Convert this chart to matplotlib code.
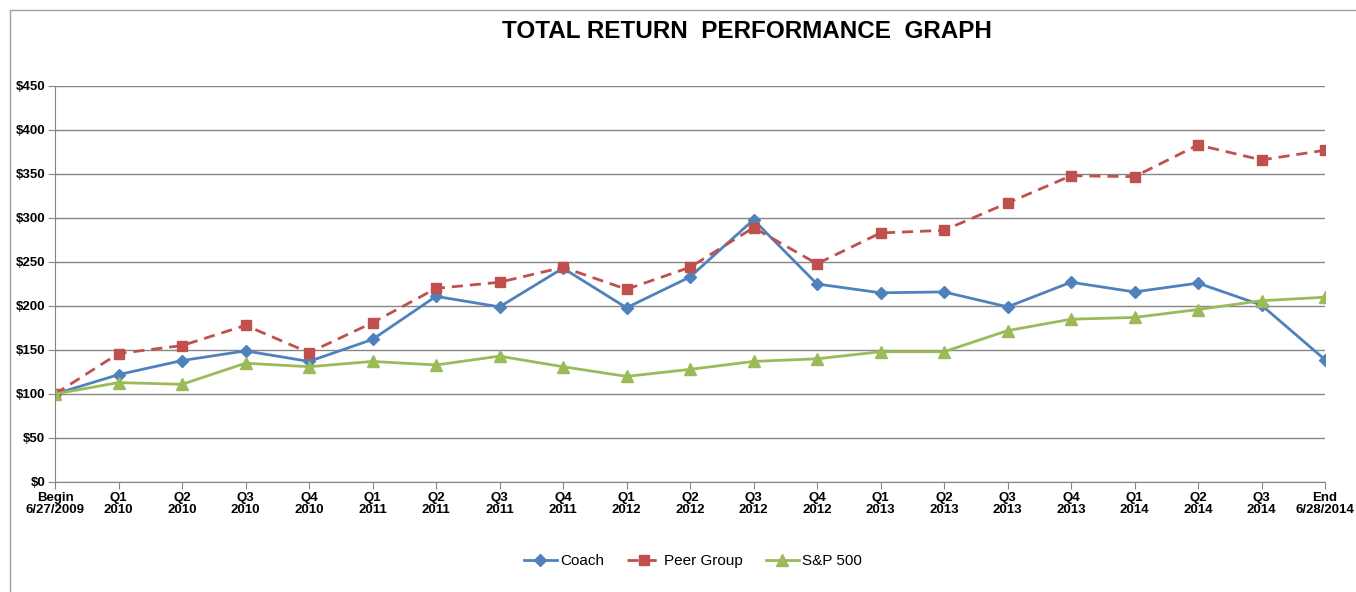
import numpy as np
import matplotlib.pyplot as plt
from matplotlib.patches import Rectangle

plt.rcParams['font.family'] = ['Liberation Sans', 'DejaVu Sans']

labels = ['Begin\n6/27/2009', 'Q1\n2010', 'Q2\n2010', 'Q3\n2010', 'Q4\n2010',
          'Q1\n2011', 'Q2\n2011', 'Q3\n2011', 'Q4\n2011',
          'Q1\n2012', 'Q2\n2012', 'Q3\n2012', 'Q4\n2012',
          'Q1\n2013', 'Q2\n2013', 'Q3\n2013', 'Q4\n2013',
          'Q1\n2014', 'Q2\n2014', 'Q3\n2014', 'End\n6/28/2014']
coach = [100, 122, 138, 149, 137, 162, 211, 199, 243, 198, 233, 298, 225,
         215, 216, 199, 227, 216, 226, 201, 139]
peer = [100, 146, 155, 178, 147, 181, 220, 227, 244, 219, 244, 289, 248,
        283, 286, 317, 348, 347, 383, 366, 377]
sp500 = [100, 113, 111, 135, 131, 137, 133, 143, 131, 120, 128, 137, 140,
         148, 148, 172, 185, 187, 196, 206, 210]
yticks = [0, 50, 100, 150, 200, 250, 300, 350, 400, 450]

fig = plt.figure(figsize=(13.56, 5.92), dpi=100)
# thin frame around the chart area (left and top edges show)
fig.patches.append(Rectangle((10/1356, -0.1), 1.2, 1 - 10/592 + 0.1,
                             transform=fig.transFigure, fill=False,
                             edgecolor='#a0a0a0', linewidth=1))
ax = fig.add_axes([55/1356, 1 - 482/592, 1270/1356, 396/592])

x = np.arange(len(labels))
ax.plot(x, coach, color='#4F81BD', lw=2, marker='D', ms=6, label='Coach')
ax.plot(x, peer, color='#C0504D', lw=2, ls='--', dashes=(4, 2.5),
        marker='s', ms=7, label='Peer Group')
ax.plot(x, sp500, color='#9BBB59', lw=2, marker='^', ms=8, label='S&P 500')

ax.set_xlim(0, 20)
ax.set_ylim(0, 450)
ax.set_xticks(x)
ax.set_xticklabels(labels, fontsize=9.5, fontweight='bold', linespacing=1.0)
ax.set_yticks(yticks)
ax.set_yticklabels(['$%d' % v for v in yticks], fontsize=9.5, fontweight='bold')
ax.yaxis.grid(True, color='#868686', lw=1)
ax.set_axisbelow(True)
for s in ['top', 'right']:
    ax.spines[s].set_visible(False)
for s in ['left', 'bottom']:
    ax.spines[s].set_color('#868686')
ax.tick_params(axis='both', color='#868686', length=5, pad=2)

fig.text(0.551, 1 - 32/592, 'TOTAL RETURN  PERFORMANCE  GRAPH', ha='center',
         va='center', fontsize=17.5, fontweight='bold')
fig.legend(loc='center', bbox_to_anchor=(0.511, 1 - 561/592), ncol=3,
           frameon=False, fontsize=11, handlelength=2.2, columnspacing=1.5,
           handletextpad=0.2)

fig.savefig('out.png', dpi=100)
